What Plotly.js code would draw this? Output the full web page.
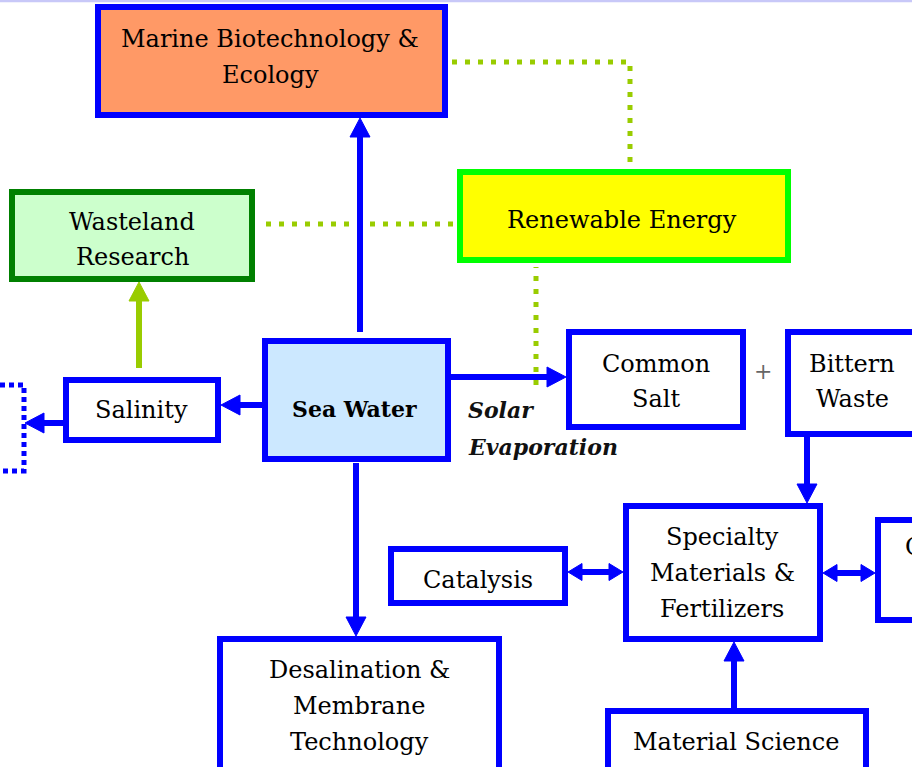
<!DOCTYPE html>
<html>
<head>
<meta charset="utf-8">
<script src="https://cdn.plot.ly/plotly-3.0.1.min.js"></script>
<style>html,body{margin:0;padding:0;background:#fff;}#chart{width:912px;height:767px;}</style>
</head>
<body>
<div id="chart"></div>
<script>
// ---- content (labels) ----
const boxLabels = [
  ["Marine Biotechnology &", "Ecology"],
  ["Wasteland", "Research"],
  ["Renewable Energy"],
  ["Sea Water"],
  ["Salinity"],
  ["Common", "Salt"],
  ["Bittern", "Waste"],
  ["Catalysis"],
  ["Specialty", "Materials &", "Fertilizers"],
  ["Chemicals"],
  ["Desalination &", "Membrane", "Technology"],
  ["Material Science"]
];
const processLabel = ["Solar", "Evaporation"];
const plusLabel = "+";

// ---- layout geometry (outer edges: x0, y0, x1, y1), diagram units = px ----
const boxGeom = [
  [95, 4, 448, 118],
  [9, 189, 255, 282],
  [457, 169, 791, 263],
  [262, 338, 451, 462],
  [63, 377, 221, 443],
  [566, 329, 746, 430],
  [785, 329, 945, 437],
  [388, 546, 568, 606],
  [623, 503, 823, 642],
  [875, 517, 945, 623],
  [217, 636, 502, 800],
  [605, 708, 869, 800]
];
// text: center x (or left x), first baseline, line spacing, anchor
const textGeom = [
  [270, 47, 36, "center"],
  [132, 230, 35, "center"],
  [622, 228, 0, "center"],
  [354, 417, 0, "center"],
  [141, 418, 0, "center"],
  [656, 372, 35, "center"],
  [852, 372, 35, "center"],
  [478, 588, 0, "center"],
  [722, 545, 36, "center"],
  [903, 555, 0, "left"],
  [359, 678, 36, "center"],
  [736, 750, 0, "center"]
];
const boxStyle = [
  {fill: "#ff9966", line: "#0000ff"},
  {fill: "#ccffcc", line: "#008000"},
  {fill: "#ffff00", line: "#00ff00"},
  {fill: "#cce8ff", line: "#0000ff", bold: true},
  {fill: "#ffffff", line: "#0000ff"},
  {fill: "#ffffff", line: "#0000ff"},
  {fill: "#ffffff", line: "#0000ff"},
  {fill: "#ffffff", line: "#0000ff"},
  {fill: "#ffffff", line: "#0000ff"},
  {fill: "#ffffff", line: "#0000ff"},
  {fill: "#ffffff", line: "#0000ff"},
  {fill: "#ffffff", line: "#0000ff"}
];

// arrows: [from box, to box, orientation, fixed coord, start, tip, color, double]
const BLUE = "#0000ff", LIME = "#99cc00";
const arrows = [
  [3, 0, "v", 360, 332, boxGeom[0][3], BLUE, false],
  [3, 4, "h", 405, boxGeom[3][0], boxGeom[4][2], BLUE, false],
  [4, -1, "h", 423, boxGeom[4][0], 25, BLUE, false],
  [4, 1, "v", 139, 368, boxGeom[1][3], LIME, false],
  [3, 5, "h", 377, boxGeom[3][2], boxGeom[5][0], BLUE, false],
  [6, 8, "v", 807, boxGeom[6][3], boxGeom[8][1], BLUE, false],
  [3, 10, "v", 356, 463, boxGeom[10][1], BLUE, false],
  [7, 8, "h", 572, boxGeom[7][2], boxGeom[8][0], BLUE, true],
  [8, 9, "h", 573, boxGeom[8][2], boxGeom[9][0], BLUE, true],
  [11, 8, "v", 734, boxGeom[11][1], boxGeom[8][3], BLUE, false]
];
// dotted connectors (polylines)
const dotted = [
  {pts: [[boxGeom[0][2] + 4, 62], [630, 62], [630, boxGeom[2][1] - 5]], color: LIME, dash: "5px,8px", top: false},
  {pts: [[266, 224], [boxGeom[2][0], 224]], color: LIME, dash: "5px,8px", top: false},
  {pts: [[536, 385], [536, boxGeom[2][3] + 4]], color: LIME, dash: "5px,8px", top: true},
  {pts: [[0, 385], [24, 385], [24, 471], [0, 471]], color: BLUE, dash: "5px,4px", top: false}
];

const shapes = [];
const annotations = [];
const FONT = "DejaVu Serif";

// top strip
shapes.push({type: "rect", xref: "paper", yref: "paper", x0: 0, x1: 1, y0: 1, y1: 0.997,
  fillcolor: "#c8c8f8", line: {width: 0}, layer: "below"});

function dottedShape(d) {
  const path = d.pts.map((p, i) => (i ? "L" : "M") + p[0] + "," + p[1]).join(" ");
  return {type: "path", xref: "x", yref: "y", path: path,
    line: {color: d.color, width: 5, dash: d.dash}};
}
dotted.filter(d => !d.top).forEach(d => shapes.push(dottedShape(d)));

// arrows
function head(o, c, tip, dir, hl, hw) {
  const b = tip - dir * hl;
  if (o === "v") return `M${c - hw},${b} L${c + hw},${b} L${c},${tip} Z`;
  return `M${b},${c - hw} L${b},${c + hw} L${tip},${c} Z`;
}
arrows.forEach(a => {
  const [f, t, o, c, s, tip, col, dbl] = a;
  const dir = tip > s ? 1 : -1;
  const hl = dbl ? 14 : 19, hw = dbl ? 8.5 : 10;
  const s2 = dbl ? s + dir * (hl - 2) : s;
  const e2 = tip - dir * (hl - 2);
  if (o === "v") shapes.push({type: "line", xref: "x", yref: "y", x0: c, x1: c, y0: s2, y1: e2, line: {color: col, width: 6}});
  else shapes.push({type: "line", xref: "x", yref: "y", x0: s2, x1: e2, y0: c, y1: c, line: {color: col, width: 6}});
  shapes.push({type: "path", xref: "x", yref: "y", path: head(o, c, tip, dir, hl, hw), fillcolor: col, line: {color: col, width: 1}});
  if (dbl) shapes.push({type: "path", xref: "x", yref: "y", path: head(o, c, s, -dir, hl, hw), fillcolor: col, line: {color: col, width: 1}});
});
dotted.filter(d => d.top).forEach(d => shapes.push(dottedShape(d)));

// boxes
boxGeom.forEach((g, i) => {
  const w = 6, h = w / 2;
  shapes.push({type: "rect", xref: "x", yref: "y", x0: g[0] + h, y0: g[1] + h, x1: g[2] - h, y1: g[3] - h,
    fillcolor: boxStyle[i].fill, line: {color: boxStyle[i].line, width: w}});
  const [tx, by, sp, anc] = textGeom[i];
  const bold = !!boxStyle[i].bold;
  const size = bold ? 22 : 24;
  boxLabels[i].forEach((ln, k) => {
    annotations.push({xref: "x", yref: "y", x: tx, y: by + k * sp - 0.345 * size,
      text: bold ? "<b>" + ln + "</b>" : ln, showarrow: false, xanchor: anc, yanchor: "middle",
      font: {family: FONT, size: size, color: "#000000"}});
  });
});

// Solar Evaporation label
processLabel.forEach((ln, k) => {
  annotations.push({xref: "x", yref: "y", x: 466, y: 418 + k * 37 - 0.345 * 22,
    text: "<b><i>" + ln + "</i></b>", showarrow: false, xanchor: "left", yanchor: "middle",
    font: {family: FONT, size: 22, color: "#111111"}});
});
annotations.push({xref: "x", yref: "y", x: 763, y: 371, text: plusLabel, showarrow: false,
  xanchor: "center", yanchor: "middle", font: {family: FONT, size: 22, color: "#666666"}});

const layout = {
  width: 912, height: 767,
  margin: {l: 0, r: 0, t: 0, b: 0, pad: 0},
  paper_bgcolor: "#ffffff", plot_bgcolor: "#ffffff",
  showlegend: false,
  xaxis: {range: [0, 912], visible: false, fixedrange: true},
  yaxis: {range: [767, 0], visible: false, fixedrange: true},
  shapes: shapes,
  annotations: annotations
};
Plotly.newPlot("chart", [{x: [], y: [], type: "scatter", hoverinfo: "skip"}], layout, {staticPlot: true, displayModeBar: false});
</script>
</body>
</html>
